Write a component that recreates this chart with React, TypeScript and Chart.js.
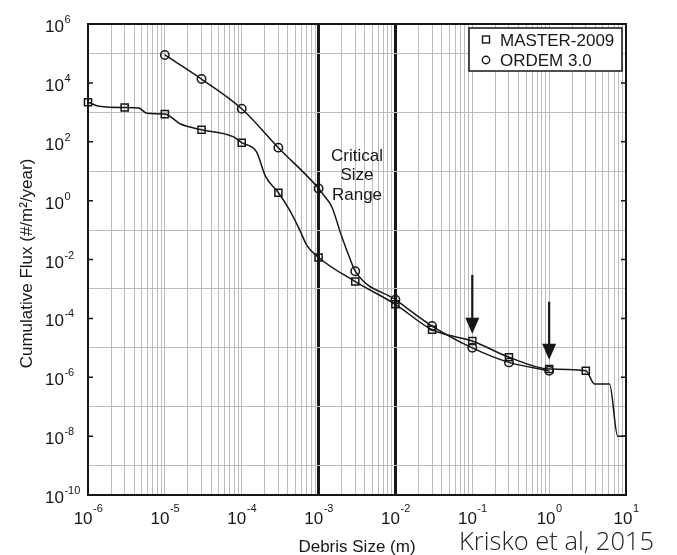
import React, { useEffect, useRef } from 'react';
import { Chart, registerables } from 'chart.js';

Chart.register(...registerables);

// ---- data ----
const masterX = [1e-6, 1.4e-6, 3e-6, 4.6e-6, 5.8e-6, 1e-5, 1.6e-5, 3e-5, 7.7e-5, 1e-4, 1.55e-4, 2.05e-4, 3e-4, 4.2e-4, 5.7e-4, 7e-4, 1e-3, 3e-3, 1e-2, 3e-2, 1e-1, 3e-1, 1, 3, 3.9, 6.1, 7.8, 10];
const masterY = [2200, 1600, 1450, 1400, 930, 870, 400, 257, 150, 93, 46, 6.5, 1.86, 0.48, 0.1, 0.031, 0.0117, 0.00178, 3.0e-4, 4.1e-5, 1.7e-5, 4.8e-6, 1.9e-6, 1.66e-6, 5.9e-7, 5.9e-7, 1e-8, 1e-8];
const masterMarkerX = [1e-6, 3e-6, 1e-5, 3e-5, 1e-4, 3e-4, 1e-3, 3e-3, 1e-2, 3e-2, 1e-1, 3e-1, 1, 3];

const ordemX = [1e-5, 3e-5, 1e-4, 3e-4, 1e-3, 1.21e-3, 1.48e-3, 2e-3, 2.55e-3, 3e-3, 1e-2, 3e-2, 1e-1, 3e-1, 1];
const ordemY = [89000, 13500, 1320, 63, 2.6, 1.35, 0.63, 0.06, 0.011, 0.004, 4.3e-4, 5.5e-5, 1.0e-5, 3.2e-6, 1.66e-6];
const ordemMarkerX = [1e-5, 3e-5, 1e-4, 3e-4, 1e-3, 3e-3, 1e-2, 3e-2, 1e-1, 3e-1, 1];

const seriesNames = ['MASTER-2009', 'ORDEM 3.0'];
const xTickExponents = [-6, -5, -4, -3, -2, -1, 0, 1];
const yTickExponents = [6, 4, 2, 0, -2, -4, -6, -8, -10];
const yGridExponents = [5, 3, 1, -1, -3, -5, -7, -9];
const xMin = 1e-6;
const xMax = 10;
const yMin = 1e-10;
const yMax = 1e6;

const criticalBounds = [1e-3, 1e-2];
const criticalLabel = ['Critical', 'Size', 'Range'];
const criticalLabelY = 23;

const arrowX = [0.1, 1];
const arrowTop = [3e-3, 3.7e-4];
const arrowTip = [3e-5, 3.9e-6];

const xTitle = 'Debris Size (m)';
const yTitle = 'Cumulative Flux (#/m²/year)';
const credit = 'Krisko et al, 2015';

// ---- styles ----
const INK = '#161616';
const GRID = '#bcbcbc';
const FONT = '"Liberation Sans", Arial, Helvetica, sans-serif';

const near = (a: number, b: number) => Math.abs(Math.log10(a) - Math.log10(b)) < 1e-6;

const decor = {
  id: 'decor',
  afterDraw(chart: any) {
    const { ctx, chartArea: a, scales } = chart;
    const x = scales.x;
    const y = scales.y;
    ctx.save();

    // frame
    ctx.strokeStyle = INK;
    ctx.lineWidth = 2;
    ctx.strokeRect(a.left, a.top, a.right - a.left, a.bottom - a.top);

    // y ticks + labels
    ctx.fillStyle = INK;
    ctx.textBaseline = 'alphabetic';
    ctx.textAlign = 'left';
    yTickExponents.forEach((e) => {
      const py = y.getPixelForValue(Math.pow(10, e));
      ctx.lineWidth = 1.5;
      ctx.beginPath();
      ctx.moveTo(a.left, py);
      ctx.lineTo(a.left + 5, py);
      ctx.moveTo(a.right, py);
      ctx.lineTo(a.right - 5, py);
      ctx.stroke();
      ctx.font = `17px ${FONT}`;
      const w = ctx.measureText('10').width;
      ctx.fillText('10', 45, py + 8);
      ctx.font = `11px ${FONT}`;
      ctx.fillText(String(e), 45 + w + 0.5, py - 1);
    });

    // x labels
    xTickExponents.forEach((e) => {
      const px = x.getPixelForValue(Math.pow(10, e));
      ctx.font = `17px ${FONT}`;
      const w1 = ctx.measureText('10').width;
      ctx.font = `11px ${FONT}`;
      const w2 = ctx.measureText(String(e)).width;
      const start = px - (w1 + w2) / 2;
      ctx.font = `17px ${FONT}`;
      ctx.fillText('10', start, a.bottom + 29);
      ctx.font = `11px ${FONT}`;
      ctx.fillText(String(e), start + w1 + 0.5, a.bottom + 17);
    });

    // axis titles
    ctx.font = `17px ${FONT}`;
    ctx.textAlign = 'center';
    ctx.fillText(xTitle, (a.left + a.right) / 2, a.bottom + 57);
    ctx.save();
    ctx.translate(32, (a.top + a.bottom) / 2 + 4);
    ctx.rotate(-Math.PI / 2);
    ctx.fillText(yTitle, 0, 0);
    ctx.restore();

    // critical size label
    const cx = x.getPixelForValue(Math.sqrt(criticalBounds[0] * criticalBounds[1]));
    const cy = y.getPixelForValue(criticalLabelY);
    criticalLabel.forEach((t, i) => ctx.fillText(t, cx, cy + i * 19.5));

    // arrows
    arrowX.forEach((vx, i) => {
      const px = x.getPixelForValue(vx);
      const top = y.getPixelForValue(arrowTop[i]);
      const tip = y.getPixelForValue(arrowTip[i]);
      const head = 16;
      ctx.lineWidth = 2.2;
      ctx.beginPath();
      ctx.moveTo(px, top);
      ctx.lineTo(px, tip - head + 1);
      ctx.stroke();
      ctx.beginPath();
      ctx.moveTo(px - 7, tip - head);
      ctx.lineTo(px + 7, tip - head);
      ctx.lineTo(px, tip);
      ctx.closePath();
      ctx.fill();
    });

    // legend
    const bw = 153;
    const bh = 43;
    const bx = a.right - 4 - bw;
    const by = a.top + 4;
    ctx.fillStyle = '#ffffff';
    ctx.fillRect(bx, by, bw, bh);
    ctx.strokeStyle = INK;
    ctx.lineWidth = 1.5;
    ctx.strokeRect(bx, by, bw, bh);
    ctx.fillStyle = INK;
    ctx.textAlign = 'left';
    ctx.font = `17px ${FONT}`;
    const rows = [by + 11.5, by + 32];
    ctx.lineWidth = 1.4;
    ctx.strokeRect(bx + 17 - 3.5, rows[0] - 3.5, 7, 7);
    ctx.beginPath();
    ctx.arc(bx + 17, rows[1], 3.7, 0, Math.PI * 2);
    ctx.stroke();
    ctx.fillText(seriesNames[0], bx + 31, rows[0] + 6);
    ctx.fillText(seriesNames[1], bx + 31, rows[1] + 6);

    // credit
    ctx.font = '300 25.5px "Open Sans", Lato, sans-serif';
    ctx.fillStyle = '#222222';
    ctx.fillText(credit, 459, 550);

    ctx.restore();
  },
};

export default function App() {
  const ref = useRef<HTMLCanvasElement | null>(null);

  useEffect(() => {
    if (!ref.current) return;
    const makeSet = (label: string, xs: number[], ys: number[], marks: number[], style: string, r: number) => ({
      label,
      data: xs.map((v, i) => ({ x: v, y: ys[i] })),
      borderColor: INK,
      borderWidth: 1.5,
      cubicInterpolationMode: 'monotone' as const,
      fill: false,
      clip: false,
      pointStyle: style,
      pointRadius: xs.map((v) => (marks.some((m) => near(m, v)) ? r : 0)),
      pointHoverRadius: 0,
      pointBorderWidth: 1.5,
      pointBorderColor: INK,
      pointBackgroundColor: 'rgba(0,0,0,0)',
    });

    const chart = new Chart(ref.current, {
      type: 'line',
      data: {
        datasets: [
          makeSet(seriesNames[0], masterX, masterY, masterMarkerX, 'rect', 5),
          makeSet(seriesNames[1], ordemX, ordemY, ordemMarkerX, 'circle', 4.2),
        ],
      },
      options: {
        responsive: false,
        animation: false,
        devicePixelRatio: 1,
        layout: { padding: { left: 88, top: 24, right: 51, bottom: 60 } },
        plugins: { legend: { display: false }, tooltip: { enabled: false } },
        events: [],
        scales: {
          x: {
            type: 'logarithmic',
            min: xMin,
            max: xMax,
            border: { display: false },
            ticks: { display: false, autoSkip: false },
            grid: {
              drawTicks: false,
              color: (c: any) => (criticalBounds.some((b) => c.tick && near(b, c.tick.value)) ? INK : GRID),
              lineWidth: (c: any) => (criticalBounds.some((b) => c.tick && near(b, c.tick.value)) ? 3 : 1),
            },
            afterBuildTicks: (s: any) => {
              const t: any[] = [];
              for (let e = -6; e <= 0; e++) {
                for (let m = 1; m <= 9; m++) t.push({ value: m * Math.pow(10, e) });
              }
              t.push({ value: 10 });
              s.ticks = t;
            },
            afterFit: (s: any) => {
              s.height = 0;
            },
          },
          y: {
            type: 'logarithmic',
            min: yMin,
            max: yMax,
            border: { display: false },
            ticks: { display: false, autoSkip: false },
            grid: {
              drawTicks: false,
              color: (c: any) => (c.tick && yGridExponents.some((e) => near(Math.pow(10, e), c.tick.value)) ? GRID : 'rgba(0,0,0,0)'),
              lineWidth: 1,
            },
            afterBuildTicks: (s: any) => {
              const t: any[] = [];
              for (let e = -10; e <= 6; e++) t.push({ value: Math.pow(10, e) });
              s.ticks = t;
            },
            afterFit: (s: any) => {
              s.width = 0;
            },
          },
        },
      } as any,
      plugins: [decor],
    });
    return () => chart.destroy();
  }, []);

  return (
    <div style={{ position: 'absolute', left: 0, top: 0, width: 677, height: 555, background: '#fff' }}>
      <canvas ref={ref} width={677} height={555} />
    </div>
  );
}
